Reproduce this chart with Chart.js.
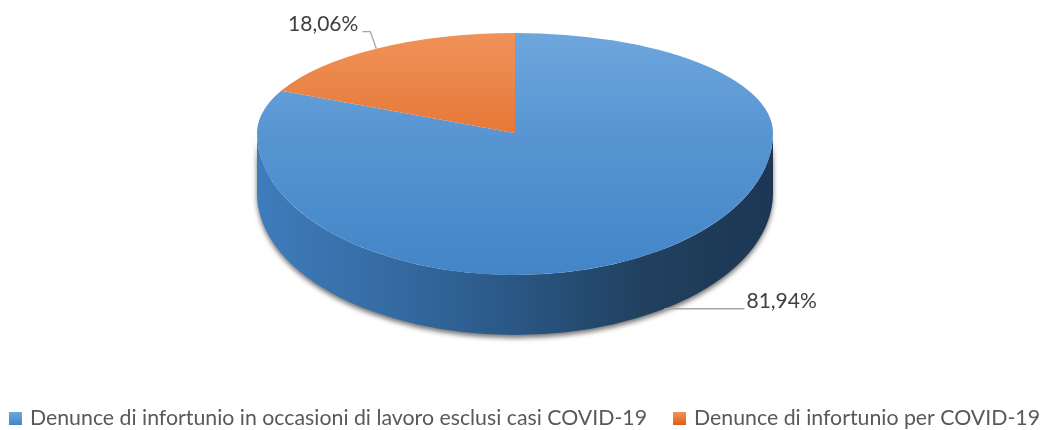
<!DOCTYPE html>
<html>
<head>
<meta charset="utf-8">
<script src="https://cdn.jsdelivr.net/npm/chart.js@4.4.1/dist/chart.umd.min.js"></script>
<style>
    html, body { margin: 0; padding: 0; background: #ffffff; }
</style>
</head>
<body>
<canvas id="infortuni-chart" width="1043" height="430"></canvas>
<script>
const categories = [
    "Denunce di infortunio in occasioni di lavoro esclusi casi COVID-19",
    "Denunce di infortunio per COVID-19",
];
const shares = [81.94, 18.06];

// top face gradient (light -> dark) and flat colour for the legend
const topColors = [
    ["#6ea6dc", "#4285c8"],
    ["#f0925a", "#dc5e14"],
];

const RADIUS = 258;
const TILT_BACK = 0.388;   // far half of the disc looks flatter
const TILT_FRONT = 0.55;   // near half looks deeper (perspective)
const DEPTH = 60;
const FONT = "Lato, 'Open Sans', sans-serif";

function formatShare(v) {
    return v.toFixed(2).replace(".", ",") + "%";
}

function topGradient(context) {
    const area = context.chart.chartArea;
    const colors = topColors[context.dataIndex];
    if (!area) {
        return colors[1];
    }
    const y = (area.top + area.bottom) / 2;
    const g = context.chart.ctx.createLinearGradient(0, y - RADIUS, 0, y + RADIUS);
    g.addColorStop(0, colors[0]);
    g.addColorStop(1, colors[1]);
    return g;
}

function geometry(chart) {
    const meta = chart.getDatasetMeta(0);
    const first = meta.data[0];
    const r = first.outerRadius;
    const ryBack = r * TILT_BACK;
    const ryFront = r * TILT_FRONT;
    return {
        meta,
        cx: first.x,
        cy: chart.chartArea.top + ryBack,
        nativeY: first.y,
        r,
        ryBack,
        ryFront,
    };
}

// point on the top rim for a Chart.js angle (0 = right, clockwise)
function rimPoint(g, angle) {
    const s = Math.sin(angle);
    return {
        x: g.cx + g.r * Math.cos(angle),
        y: g.cy + s * (s > 0 ? g.ryFront : g.ryBack),
    };
}

const pie3d = {
    id: "pie3d",
    beforeDatasetsDraw(chart) {
        const ctx = chart.ctx;
        const g = geometry(chart);
        const { meta, cx, cy, nativeY, r, ryFront } = g;

        // side wall (only the front half is visible)
        ctx.save();
        const side = ctx.createLinearGradient(cx - r, 0, cx + r, 0);
        side.addColorStop(0, "#3f7cbc");
        side.addColorStop(0.3, "#33689e");
        side.addColorStop(0.5, "#2a5784");
        side.addColorStop(0.75, "#21405f");
        side.addColorStop(1, "#1d3655");
        ctx.beginPath();
        ctx.ellipse(cx, cy + DEPTH, r, ryFront, 0, 0, Math.PI);
        ctx.lineTo(cx - r, cy);
        ctx.ellipse(cx, cy, r, ryFront, 0, Math.PI, 0, true);
        ctx.closePath();
        ctx.shadowColor = "rgba(0, 0, 0, 0.55)";
        ctx.shadowBlur = 5;
        ctx.shadowOffsetY = 3;
        ctx.fillStyle = side;
        ctx.fill();
        ctx.restore();

        // top face: the library's own arcs, squashed differently for the far and near halves
        [
            [TILT_BACK, -1],
            [TILT_FRONT, 1],
        ].forEach(([tilt, dir]) => {
            ctx.save();
            ctx.beginPath();
            if (dir < 0) {
                ctx.rect(0, 0, chart.width, cy);
            } else {
                ctx.rect(0, cy, chart.width, chart.height - cy);
            }
            ctx.clip();
            ctx.translate(cx, cy);
            ctx.scale(1, tilt);
            ctx.translate(-cx, -nativeY);
            meta.data.forEach((arc) => arc.draw(ctx));
            ctx.restore();
        });
        return false;
    },
    afterDraw(chart) {
        const ctx = chart.ctx;
        const g = geometry(chart);
        const { meta, cx, cy, r, ryFront } = g;

        ctx.save();
        ctx.font = "21px " + FONT;
        ctx.fillStyle = "#404040";
        ctx.strokeStyle = "#a6a6a6";
        ctx.lineWidth = 1.3;
        ctx.textBaseline = "alphabetic";

        // data labels with leader lines
        meta.data.forEach((arc, i) => {
            const mid = (arc.startAngle + arc.endAngle) / 2;
            const p = rimPoint(g, mid);
            const text = formatShare(shares[i]);

            if (Math.sin(mid) > 0) {
                // front slice: leader from the bottom of the wall
                const lineY = p.y + DEPTH - 4;
                const k = (lineY - cy - DEPTH) / ryFront;
                const edgeX = cx + Math.sign(Math.cos(mid)) * r * Math.sqrt(Math.max(0, 1 - k * k));
                const endX = edgeX + 80;
                ctx.beginPath();
                ctx.moveTo(edgeX, lineY);
                ctx.lineTo(endX, lineY);
                ctx.stroke();
                ctx.textAlign = "left";
                ctx.fillText(text, endX + 2, lineY - 1);
            } else {
                // back slice: short elbow leader from the rim
                const elbowX = p.x - 6;
                const elbowY = p.y - 17;
                const endX = elbowX - 8;
                ctx.beginPath();
                ctx.moveTo(p.x, p.y);
                ctx.lineTo(elbowX, elbowY);
                ctx.lineTo(endX, elbowY);
                ctx.stroke();
                ctx.textAlign = "right";
                ctx.fillText(text, endX - 4, elbowY - 1);
            }
        });

        // legend row along the bottom
        ctx.font = "21.3px " + FONT;
        const box = 13;
        const boxGap = 8;
        const itemGap = 26;
        const widths = categories.map((c) => ctx.measureText(c).width);
        const total = widths.reduce((acc, w) => acc + box + boxGap + w, 0) + itemGap * (categories.length - 1);
        let x = (chart.width - total) / 2 + 3;
        const baseline = chart.height - 5;
        ctx.textAlign = "left";
        categories.forEach((c, i) => {
            const grad = ctx.createLinearGradient(0, baseline - box, 0, baseline);
            grad.addColorStop(0, topColors[i][0]);
            grad.addColorStop(1, topColors[i][1]);
            ctx.fillStyle = grad;
            ctx.fillRect(x, baseline - box, box, box);
            x += box + boxGap;
            ctx.fillStyle = "#595959";
            ctx.fillText(c, x, baseline);
            x += widths[i] + itemGap;
        });
        ctx.restore();
    },
};

new Chart(document.getElementById("infortuni-chart").getContext("2d"), {
    type: "pie",
    data: {
        labels: categories,
        datasets: [
            {
                data: shares,
                backgroundColor: topGradient,
                borderWidth: 0,
                radius: RADIUS,
                clip: false,
            },
        ],
    },
    plugins: [pie3d],
    options: {
        responsive: false,
        animation: false,
        layout: {
            padding: { top: 33, right: 13, bottom: 50, left: 0 },
        },
        plugins: {
            tooltip: { enabled: false },
            legend: { display: false },
        },
    },
});
</script>
</body>
</html>
